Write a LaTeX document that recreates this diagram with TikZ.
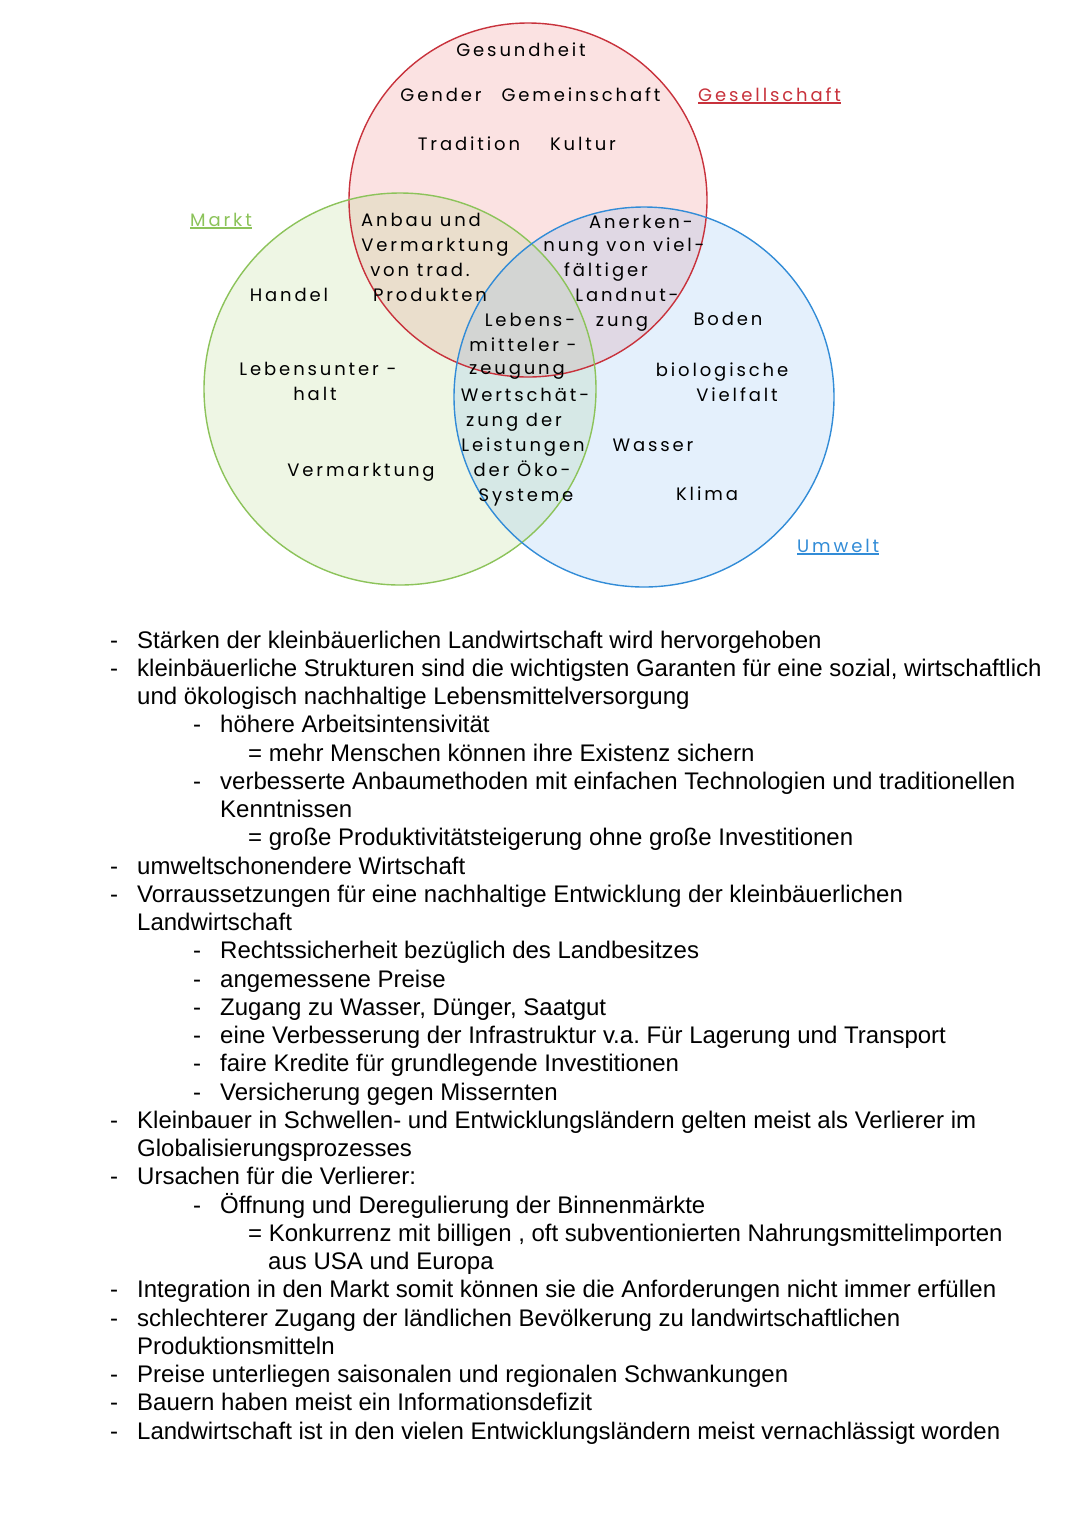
\documentclass[tikz,border=0pt]{standalone}
\usepackage{fontspec}
\setmainfont{Liberation Sans}
\newfontfamily\hand[LetterSpace=16]{Poppins}
\definecolor{rline}{RGB}{200,50,60}
\definecolor{gline}{RGB}{140,195,90}
\definecolor{bline}{RGB}{50,140,215}
\definecolor{rfill}{RGB}{235,110,110}
\definecolor{gfill}{RGB}{170,210,120}
\definecolor{bfill}{RGB}{120,180,240}
\begin{document}
\begin{tikzpicture}[x=1pt,y=-1pt,
  body/.style={font=\fontsize{24}{28}\selectfont, anchor=base west, inner sep=0pt},
  hand/.style={font=\hand\fontsize{18}{21}\selectfont, anchor=base, inner sep=0pt},
  lbl/.style={hand, anchor=base west}]
\useasboundingbox (0,0) rectangle (1080,1527);
\fill[white] (0,0) rectangle (1080,1527);
% circles fills
\fill[rfill, fill opacity=0.2] (528,200) ellipse [x radius=179pt, y radius=177pt];
\fill[gfill, fill opacity=0.2] (400,389) ellipse [x radius=196pt, y radius=196pt];
\fill[bfill, fill opacity=0.2] (644,397) ellipse [x radius=190pt, y radius=190pt];
\draw[rline, line width=1.4pt] (528,200) ellipse [x radius=179pt, y radius=177pt];
\draw[gline, line width=1.4pt] (400,389) ellipse [x radius=196pt, y radius=196pt];
\draw[bline, line width=1.4pt] (644,397) ellipse [x radius=190pt, y radius=190pt];
% category labels
\node[lbl, text=rline] (gesell) at (698,101) {Gesellschaft};
\draw[rline, line width=1.2pt] ([yshift=-2pt]gesell.base west) -- ([yshift=-2pt]gesell.base east);
\node[lbl, text=gline] (markt) at (190,226) {Markt};
\draw[gline, line width=1.2pt] ([yshift=-2pt]markt.base west) -- ([yshift=-2pt]markt.base east);
\node[lbl, text=bline] (umwelt) at (797,552) {Umwelt};
\draw[bline, line width=1.2pt] ([yshift=-2pt]umwelt.base west) -- ([yshift=-2pt]umwelt.base east);
% Venn texts
\node[hand] (v1) at (521,56) {Gesundheit};
\node[hand] (v2) at (441,101) {Gender};
\node[hand] (v3) at (581,101) {Gemeinschaft};
\node[hand] (v4) at (469,150) {Tradition};
\node[hand] (v5) at (583,150) {Kultur};
\node[hand] (v6) at (421,226) {Anbau und};
\node[hand] (v7) at (435,251) {Vermarktung};
\node[hand] (v8) at (420,276) {von trad.};
\node[hand] (v9) at (430,301) {Produkten};
\node[hand] (v10) at (641,228) {Anerken-};
\node[hand] (v11) at (624,251) {nung von viel-};
\node[hand] (v12) at (606,276) {fältiger};
\node[hand] (v13) at (627,301) {Landnut-};
\node[hand] (v14) at (622,326) {zung};
\node[hand] (v15) at (289,301) {Handel};
\node[hand] (v16) at (530,326) {Lebens-};
\node[hand] (v17) at (523,351) {mitteler -};
\node[hand] (v18) at (517,374) {zeugung};
\node[hand] (v19) at (728,325) {Boden};
\node[hand] (v20) at (318,375) {Lebensunter -};
\node[hand] (v21) at (315,400) {halt};
\node[hand] (v22) at (722,376) {biologische};
\node[hand] (v23) at (737,401) {Vielfalt};
\node[hand] (v24) at (525,401) {Wertschät-};
\node[hand] (v25) at (514,426) {zung der};
\node[hand] (v26) at (523,451) {Leistungen};
\node[hand] (v27) at (653,451) {Wasser};
\node[hand] (v28) at (361,476) {Vermarktung};
\node[hand] (v29) at (522,476) {der Öko-};
\node[hand] (v30) at (526,501) {Systeme};
\node[hand] (v31) at (707,500) {Klima};
% body text
\node[body] (d1) at (110,648) {-};
\node[body] (t1) at (137,648) {Stärken der kleinbäuerlichen Landwirtschaft wird hervorgehoben};
\node[body] (d2) at (110,676.25) {-};
\node[body] (t2) at (137,676.25) {kleinbäuerliche Strukturen sind die wichtigsten Garanten für eine sozial, wirtschaftlich};
\node[body] (t3) at (137,704.5) {und ökologisch nachhaltige Lebensmittelversorgung};
\node[body] (d4) at (193,732.75) {-};
\node[body] (t4) at (220,732.75) {höhere Arbeitsintensivität};
\node[body] (t5) at (248,761) {= mehr Menschen können ihre Existenz sichern};
\node[body] (d6) at (193,789.25) {-};
\node[body] (t6) at (220,789.25) {verbesserte Anbaumethoden mit einfachen Technologien und traditionellen};
\node[body] (t7) at (220,817.5) {Kenntnissen};
\node[body] (t8) at (248,845.75) {= große Produktivitätsteigerung ohne große Investitionen};
\node[body] (d9) at (110,874) {-};
\node[body] (t9) at (137,874) {umweltschonendere Wirtschaft};
\node[body] (d10) at (110,902.25) {-};
\node[body] (t10) at (137,902.25) {Vorraussetzungen für eine nachhaltige Entwicklung der kleinbäuerlichen};
\node[body] (t11) at (137,930.5) {Landwirtschaft};
\node[body] (d12) at (193,958.75) {-};
\node[body] (t12) at (220,958.75) {Rechtssicherheit bezüglich des Landbesitzes};
\node[body] (d13) at (193,987) {-};
\node[body] (t13) at (220,987) {angemessene Preise};
\node[body] (d14) at (193,1015.25) {-};
\node[body] (t14) at (220,1015.25) {Zugang zu Wasser, Dünger, Saatgut};
\node[body] (d15) at (193,1043.5) {-};
\node[body] (t15) at (220,1043.5) {eine Verbesserung der Infrastruktur v.a.~Für Lagerung und Transport};
\node[body] (d16) at (193,1071.75) {-};
\node[body] (t16) at (220,1071.75) {faire Kredite für grundlegende Investitionen};
\node[body] (d17) at (193,1100) {-};
\node[body] (t17) at (220,1100) {Versicherung gegen Missernten};
\node[body] (d18) at (110,1128.25) {-};
\node[body] (t18) at (137,1128.25) {Kleinbauer in Schwellen- und Entwicklungsländern gelten meist als Verlierer im};
\node[body] (t19) at (137,1156.5) {Globalisierungsprozesses};
\node[body] (d20) at (110,1184.75) {-};
\node[body] (t20) at (137,1184.75) {Ursachen für die Verlierer:};
\node[body] (d21) at (193,1213) {-};
\node[body] (t21) at (220,1213) {Öffnung und Deregulierung der Binnenmärkte};
\node[body] (t22) at (248,1241.25) {= Konkurrenz mit billigen , oft subventionierten Nahrungsmittelimporten};
\node[body] (t23) at (268,1269.5) {aus USA und Europa};
\node[body] (d24) at (110,1297.75) {-};
\node[body] (t24) at (137,1297.75) {Integration in den Markt somit können sie die Anforderungen nicht immer erfüllen};
\node[body] (d25) at (110,1326) {-};
\node[body] (t25) at (137,1326) {schlechterer Zugang der ländlichen Bevölkerung zu landwirtschaftlichen};
\node[body] (t26) at (137,1354.25) {Produktionsmitteln};
\node[body] (d27) at (110,1382.5) {-};
\node[body] (t27) at (137,1382.5) {Preise unterliegen saisonalen und regionalen Schwankungen};
\node[body] (d28) at (110,1410.75) {-};
\node[body] (t28) at (137,1410.75) {Bauern haben meist ein Informationsdefizit};
\node[body] (d29) at (110,1439) {-};
\node[body] (t29) at (137,1439) {Landwirtschaft ist in den vielen Entwicklungsländern meist vernachlässigt worden};
\end{tikzpicture}
\end{document}
